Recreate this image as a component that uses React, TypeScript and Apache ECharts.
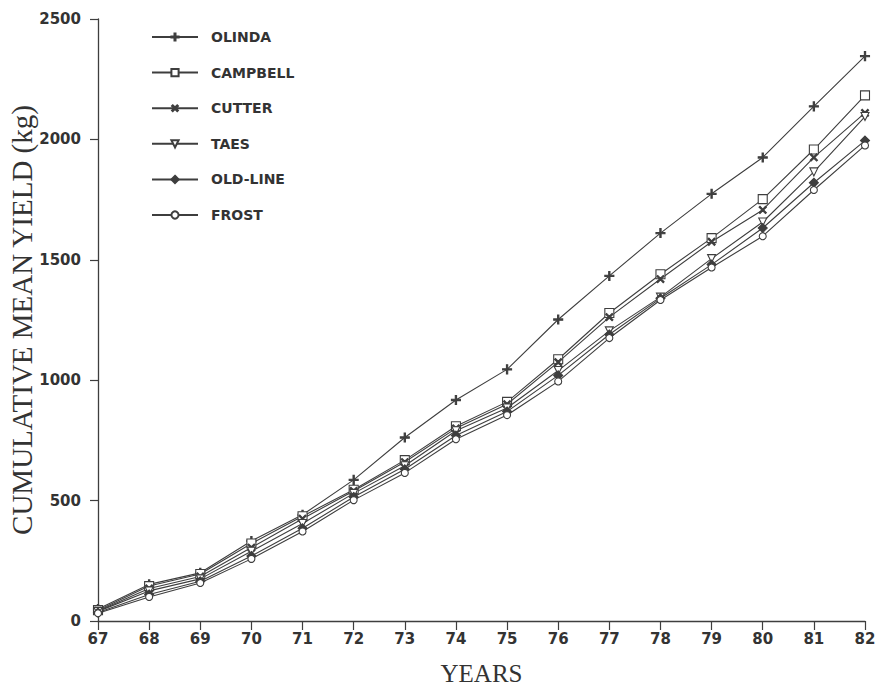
import React, { useEffect, useRef } from "react";
import * as echarts from "echarts";

const years = ["67","68","69","70","71","72","73","74","75","76","77","78","79","80","81","82"];
const olinda = [50, 152, 200, 332, 441, 586, 762, 918, 1045, 1252, 1433, 1611, 1774, 1925, 2137, 2346];
const campbell = [45, 145, 195, 322, 435, 545, 668, 809, 910, 1087, 1279, 1440, 1590, 1752, 1958, 2183];
const cutter = [42, 135, 185, 305, 425, 540, 660, 800, 900, 1075, 1262, 1420, 1575, 1707, 1925, 2110];
const taes = [40, 125, 175, 290, 405, 530, 645, 790, 885, 1040, 1205, 1345, 1505, 1657, 1865, 2095];
const oldLine = [35, 110, 165, 270, 385, 515, 630, 770, 870, 1020, 1190, 1340, 1480, 1632, 1820, 1995];
const frost = [32, 100, 158, 258, 372, 502, 615, 755, 855, 995, 1175, 1333, 1468, 1598, 1790, 1975];
const yTicks = [0, 500, 1000, 1500, 2000, 2500];

const INK = "#3e3e3e";
const PLUS = "path://M4.3,0H5.7V4.3H10V5.7H5.7V10H4.3V5.7H0V4.3H4.3Z";

export default function App() {
  const ref = useRef<HTMLDivElement>(null);
  useEffect(() => {
    document.body.style.margin = "0";
    if (!ref.current) return;
    const chart = echarts.init(ref.current, null, { renderer: "svg" });
    const mk = (name: string, data: number[], symbol: string, fill: string, size: number, rotate = 0) => ({
      name,
      type: "line",
      data,
      symbol,
      symbolSize: size,
      symbolRotate: rotate,
      showAllSymbol: true,
      lineStyle: { color: INK, width: 1.1 },
      itemStyle: { color: fill, borderColor: INK, borderWidth: 1.1 },
    });
    chart.setOption({
      animation: false,
      backgroundColor: "#ffffff",
      textStyle: { fontFamily: "DejaVu Sans" },
      grid: { left: 98, right: 12, top: 19, bottom: 66, containLabel: false, outerBoundsMode: "none" },
      legend: {
        orient: "vertical",
        left: 146,
        top: 25,
        itemWidth: 46,
        itemHeight: 9,
        itemGap: 21.6,
        textStyle: { fontFamily: "DejaVu Sans", fontSize: 14, fontWeight: "bold", color: "#333", padding: [0, 0, 0, 8] },
        data: ["OLINDA", "CAMPBELL", "CUTTER", "TAES", "OLD-LINE", "FROST"],
      },
      xAxis: {
        type: "category",
        data: years,
        boundaryGap: false,
        name: "YEARS",
        nameLocation: "middle",
        nameGap: 40,
        nameTextStyle: { fontFamily: "Liberation Serif", fontSize: 25, color: "#333" },
        axisLine: { lineStyle: { color: INK, width: 1.3 } },
        axisTick: { length: 9, lineStyle: { color: INK, width: 1.2 } },
        axisLabel: { fontSize: 15, fontWeight: "bold", color: "#333", margin: 10 },
      },
      yAxis: {
        type: "value",
        min: yTicks[0],
        max: yTicks[yTicks.length - 1],
        interval: 500,
        name: "CUMULATIVE MEAN YIELD (kg)",
        nameLocation: "middle",
        nameRotate: 90,
        nameGap: 62,
        nameMoveOverlap: false,
        nameTextStyle: { fontFamily: "Liberation Serif", fontSize: 29, color: "#333" },
        splitLine: { show: false },
        axisLine: { show: true, lineStyle: { color: INK, width: 1.3 } },
        axisTick: { show: true, length: 8, lineStyle: { color: INK, width: 1.2 } },
        axisLabel: { fontSize: 15, fontWeight: "bold", color: "#333", margin: 17, formatter: (v: number) => String(v) },
      },
      series: [
        mk("OLINDA", olinda, PLUS, INK, 9),
        mk("CAMPBELL", campbell, "rect", "#ffffff", 9),
        mk("CUTTER", cutter, PLUS, INK, 9, 45),
        mk("TAES", taes, "triangle", "#ffffff", 8, 180),
        mk("OLD-LINE", oldLine, "diamond", INK, 9),
        mk("FROST", frost, "circle", "#ffffff", 7),
      ],
    });
    return () => chart.dispose();
  }, []);
  return <div ref={ref} style={{ width: 877, height: 687 }} />;
}
